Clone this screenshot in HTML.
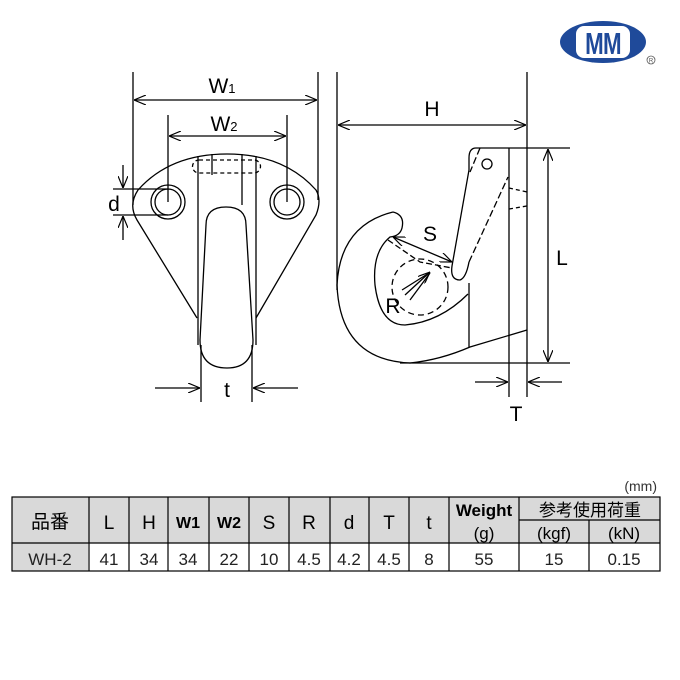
<!DOCTYPE html>
<html><head><meta charset="utf-8"><style>
html,body{margin:0;padding:0;background:#fff;width:680px;height:680px;overflow:hidden}
svg{display:block}
</style></head><body>
<svg width="680" height="680" viewBox="0 0 680 680" xmlns="http://www.w3.org/2000/svg" font-family="Liberation Sans, sans-serif">
<defs>
<marker id="a" markerWidth="12" markerHeight="10" refX="12" refY="5" orient="auto-start-reverse" markerUnits="userSpaceOnUse">
<path d="M0 0 L12 5 L0 10" fill="none" stroke="#000" stroke-width="1.2"/></marker>
</defs>
<!-- logo -->
<ellipse cx="603" cy="42" rx="43" ry="21" fill="#1f4a9a"/>
<rect x="576" y="26" width="54" height="32" rx="8" fill="#fff"/>
<text x="0" y="0" font-size="31" font-weight="bold" fill="#1f4a9a" text-anchor="middle" transform="translate(603 54) scale(0.72 1)" letter-spacing="-1">MM</text>
<circle cx="651" cy="60" r="4" fill="none" stroke="#555" stroke-width="0.8"/>
<text x="651" y="62.5" font-size="6" text-anchor="middle" fill="#555">R</text>

<g stroke="#000" stroke-width="1.3" fill="none">
<!-- front view -->
<line x1="133" y1="72" x2="133" y2="205"/>
<line x1="318" y1="72" x2="318" y2="200"/>
<line x1="134" y1="100" x2="317" y2="100" marker-start="url(#a)" marker-end="url(#a)"/>
<line x1="168" y1="115" x2="168" y2="202"/>
<line x1="287" y1="115" x2="287" y2="202"/>
<line x1="169" y1="136" x2="286" y2="136" marker-start="url(#a)" marker-end="url(#a)"/>
<path d="M197 318 L137 220 Q128 205 138 190 Q170 154 227 154 Q284 154 316 190 Q322 200 316 215 L256 318"/>
<circle cx="168" cy="202" r="17"/><circle cx="168" cy="202" r="13"/>
<circle cx="287" cy="202" r="17"/><circle cx="287" cy="202" r="13"/>
<line x1="198" y1="156" x2="198" y2="345"/>
<line x1="256" y1="156" x2="256" y2="345"/>
<line x1="212" y1="154" x2="212" y2="175"/>
<line x1="242" y1="154" x2="242" y2="205"/>
<path d="M199 160 L254 160 A6.5 6.5 0 0 1 254 173 L199 173 A6.5 6.5 0 0 1 199 160" stroke-dasharray="4 3"/>
<path d="M206 225 Q206 207 226 207 Q246 207 246 225 L253 340 Q253 368 227 368 Q200 368 200 340 Z" fill="#fff"/>
<line x1="113" y1="189" x2="168" y2="189"/>
<line x1="113" y1="215" x2="168" y2="215"/>
<line x1="123" y1="165" x2="123" y2="188" marker-end="url(#a)"/>
<line x1="123" y1="240" x2="123" y2="216" marker-end="url(#a)"/>
<line x1="201" y1="345" x2="201" y2="402"/>
<line x1="252" y1="345" x2="252" y2="402"/>
<line x1="155" y1="388" x2="200" y2="388" marker-end="url(#a)"/>
<line x1="298" y1="388" x2="253" y2="388" marker-end="url(#a)"/>

<!-- side view -->
<line x1="337" y1="72" x2="337" y2="290"/>
<line x1="527" y1="72" x2="527" y2="397"/>
<line x1="338" y1="125" x2="526" y2="125" marker-start="url(#a)" marker-end="url(#a)"/>
<line x1="509" y1="148" x2="509" y2="397"/>
<line x1="476" y1="148" x2="570" y2="148"/>
<line x1="400" y1="363" x2="570" y2="363"/>
<line x1="548" y1="149" x2="548" y2="362" marker-start="url(#a)" marker-end="url(#a)"/>
<line x1="475" y1="382" x2="508" y2="382" marker-end="url(#a)"/>
<line x1="562" y1="382" x2="528" y2="382" marker-end="url(#a)"/>
<path d="M476 148 Q469 148 469 158 L469 170 L452 266 Q450 280 460 280 Q466 278 469 262"/>
<path d="M480 148 L470 172 M469 262 L508 177" stroke-dasharray="7 3"/>
<circle cx="487" cy="164" r="5"/>
<path d="M509 188 L527 192 M509 209 L527 206" stroke-dasharray="4 3"/>
<line x1="469" y1="283" x2="469" y2="347"/>
<path d="M393 212 Q340 225 337 285 Q340 360 410 363 Q440 360 470 347 L527 330"/>
<path d="M393 212 Q405 215 402 228 Q400 236 390 237 Q372 252 375 285 Q380 325 405 325 Q440 322 468 294"/>
<path d="M388 240 L420 262 L452 268" stroke-dasharray="6 3"/>
<circle cx="420" cy="287" r="28" stroke-dasharray="6 4"/>
<line x1="393" y1="237" x2="452" y2="262" marker-start="url(#a)" marker-end="url(#a)"/>
<line x1="405" y1="295" x2="430" y2="272" marker-end="url(#a)"/>
<line x1="410" y1="300" x2="430" y2="273"/>
<line x1="402" y1="290" x2="429" y2="273"/>
</g>
<g font-size="21" fill="#000" text-anchor="middle">
<text x="222" y="93">W<tspan font-size="13">1</tspan></text>
<text x="224" y="131">W<tspan font-size="13">2</tspan></text>
<text x="114" y="211">d</text>
<text x="227" y="397">t</text>
<text x="432" y="116">H</text>
<text x="430" y="241">S</text>
<text x="393" y="313">R</text>
<text x="562" y="265">L</text>
<text x="516" y="421">T</text>
</g>

<!-- table -->
<text x="657" y="491" font-size="14" text-anchor="end" fill="#333">(mm)</text>
<rect x="12" y="497" width="76" height="74" fill="#d9d9d9"/>
<rect x="88" y="497" width="572" height="46" fill="#d9d9d9"/>
<g stroke="#000" stroke-width="1.2" fill="none">
<rect x="12" y="497" width="648" height="74"/>
<line x1="12" y1="543" x2="660" y2="543"/>
<line x1="519" y1="520" x2="660" y2="520"/>
<path d="M89 497V571M129 497V571M168 497V571M209 497V571M249 497V571M289 497V571M330 497V571M369 497V571M409 497V571M449 497V571M519 497V571M589 520V571"/>
</g>
<g font-size="19" text-anchor="middle" font-family="Liberation Sans, Noto Sans CJK JP, sans-serif">
<text x="50" y="528">品番</text>
<text x="109" y="529">L</text><text x="149" y="529">H</text>
<text x="188" y="528" font-size="16" font-weight="bold">W1</text><text x="229" y="528" font-size="16" font-weight="bold">W2</text>
<text x="269" y="529">S</text><text x="309" y="529">R</text><text x="349" y="529">d</text>
<text x="389" y="529">T</text><text x="429" y="529">t</text>
<text x="484" y="516" font-size="17" font-weight="bold">Weight</text><text x="484" y="539" font-size="17">(g)</text>
<text x="590" y="516" font-size="17">参考使用荷重</text>
<text x="554" y="539" font-size="17">(kgf)</text><text x="624" y="539" font-size="17">(kN)</text>
<g font-size="17" fill="#222">
<text x="50" y="565">WH-2</text><text x="109" y="565">41</text><text x="149" y="565">34</text>
<text x="188" y="565">34</text><text x="229" y="565">22</text><text x="269" y="565">10</text>
<text x="309" y="565">4.5</text><text x="349" y="565">4.2</text><text x="389" y="565">4.5</text>
<text x="429" y="565">8</text><text x="484" y="565">55</text><text x="554" y="565">15</text>
<text x="624" y="565">0.15</text>
</g>
</g>
</svg>
</body></html>
